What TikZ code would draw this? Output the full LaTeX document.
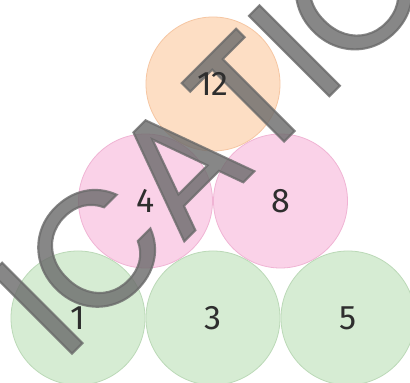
\documentclass[tikz,border=0pt]{standalone}
\usepackage{fontspec}
\setmainfont{Fira Sans}
\newfontfamily\wmfont[FakeBold=1.3]{Poppins}
\definecolor{orfill}{HTML}{FDDEC4}
\definecolor{ordraw}{HTML}{F6C6A2}
\definecolor{pkfill}{HTML}{FAD2E8}
\definecolor{pkdraw}{HTML}{F0B4D4}
\definecolor{grfill}{HTML}{D6ECD3}
\definecolor{grdraw}{HTML}{BBD9B7}
\definecolor{numcol}{HTML}{2E2E2E}
\definecolor{wmcol}{HTML}{6A6A6A}
\tikzset{
  ball/.style={circle, minimum size=134pt, inner sep=0pt, line width=0.8pt},
  orball/.style={ball, fill=orfill, draw=ordraw},
  pkball/.style={ball, fill=pkfill, draw=pkdraw},
  grball/.style={ball, fill=grfill, draw=grdraw},
  num/.style={text=numcol, font=\fontsize{34}{34}\selectfont},
  wm/.style={text=wmcol, text opacity=0.8, rotate=45, inner sep=0pt, font=\wmfont\fontsize{163}{163}\selectfont}
}
\begin{document}
\begin{tikzpicture}[x=1pt,y=1pt]
\useasboundingbox[fill=white] (0,0) rectangle (410,383);
\begin{scope}
\clip (0,0) rectangle (410,383);
\node[orball] (c12) at (213,299) {};
\node[pkball] (c4) at (145.5,182) {};
\node[pkball] (c8) at (280.5,182) {};
\node[grball] (c1) at (78,65) {};
\node[grball] (c3) at (213,65) {};
\node[grball] (c5) at (348,65) {};
\node[wm] (wmark) at (211,249) {ICATIO};
\end{scope}
\node[num] at (c12) {12};
\node[num] at (c4) {4};
\node[num] at (c8) {8};
\node[num] at (c1) {1};
\node[num] at (c3) {3};
\node[num] at (c5) {5};
\end{tikzpicture}
\end{document}
